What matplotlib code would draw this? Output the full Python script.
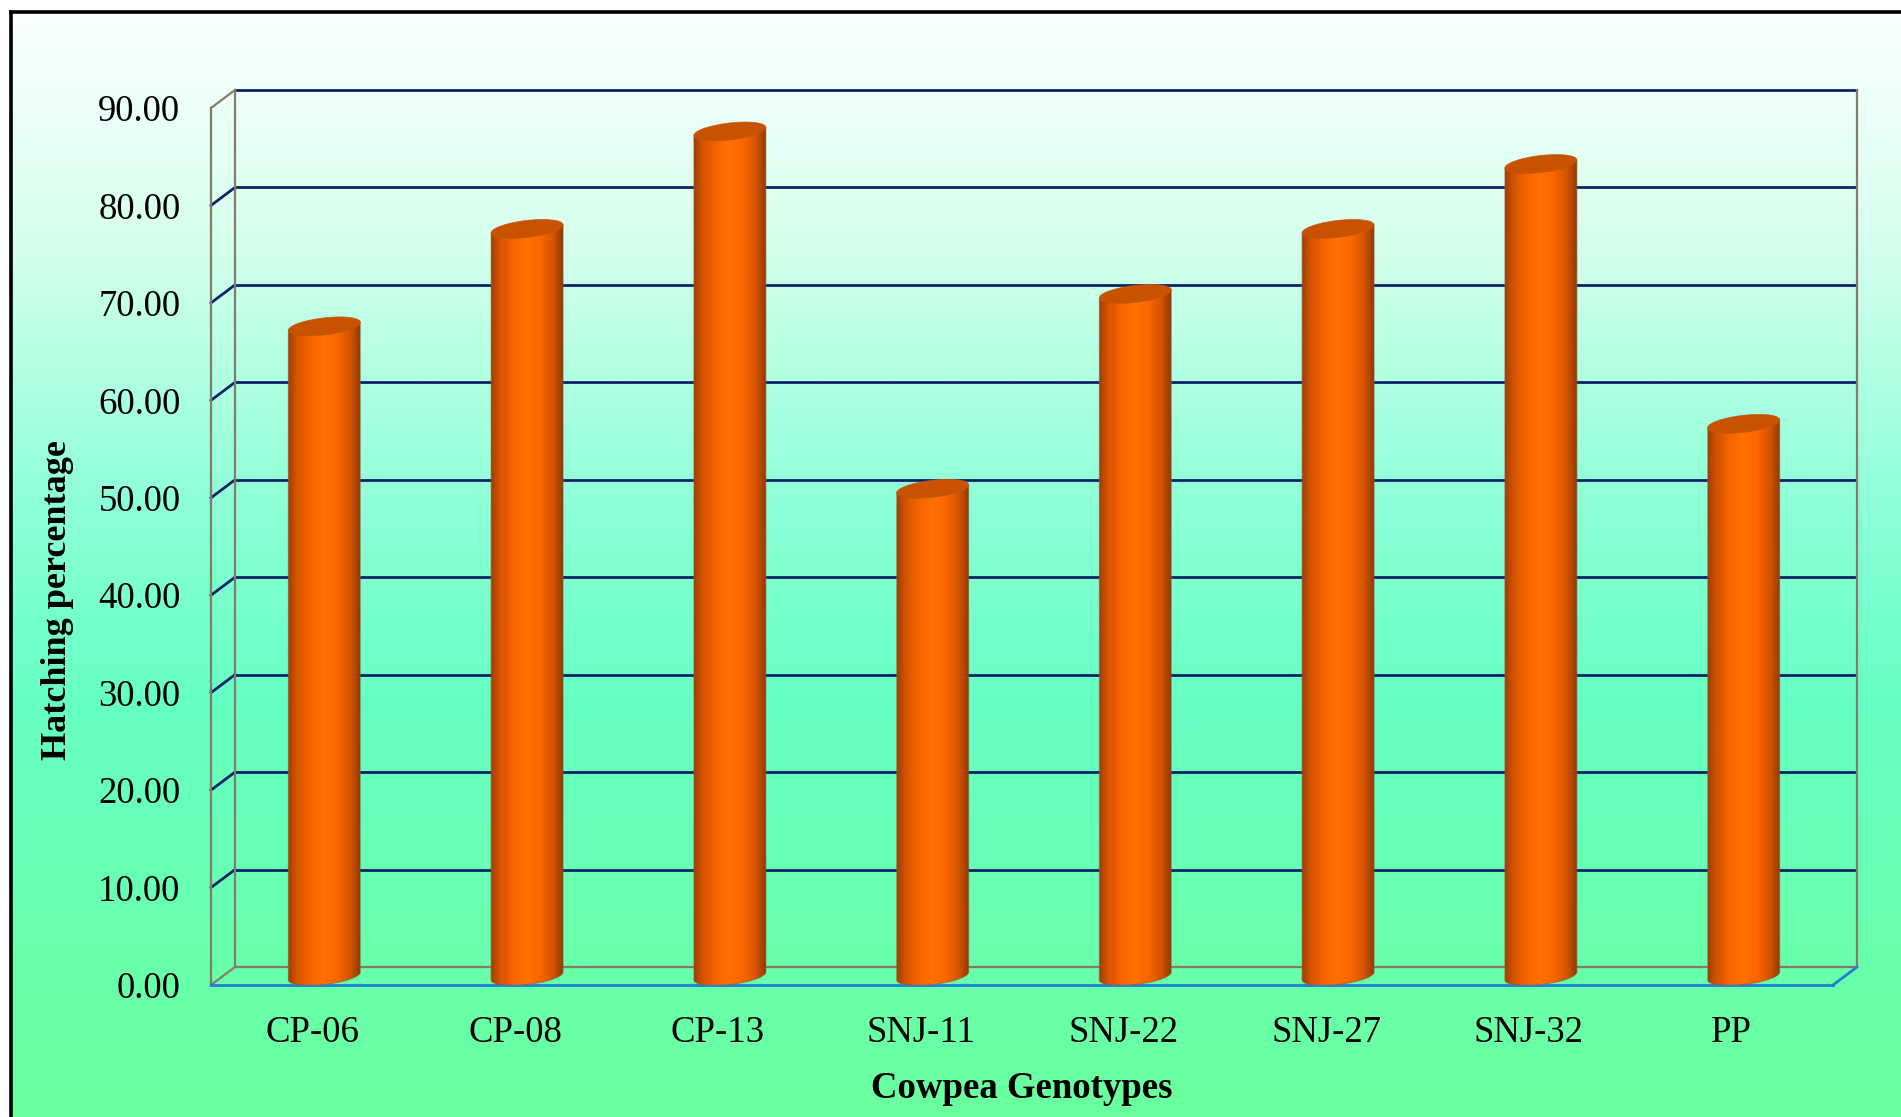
import numpy as np
import matplotlib
matplotlib.use("Agg")
import matplotlib.pyplot as plt
from matplotlib.colors import LinearSegmentedColormap
from matplotlib.patches import Polygon

# ---------------- data ----------------
genotypes = ["CP-06", "CP-08", "CP-13", "SNJ-11", "SNJ-22", "SNJ-27", "SNJ-32", "PP"]
hatching = [66.67, 76.67, 86.67, 50.00, 70.00, 76.67, 83.33, 56.67]
y_ticks = [0, 10, 20, 30, 40, 50, 60, 70, 80, 90]
y_tick_labels = ["0.00", "10.00", "20.00", "30.00", "40.00",
                 "50.00", "60.00", "70.00", "80.00", "90.00"]
x_title = "Cowpea Genotypes"
y_title = "Hatching percentage"

# ---------------- style ----------------
W, H, DPI = 1901, 1117, 100
FONT = ["Liberation Serif", "DejaVu Serif"]
plt.rcParams["font.family"] = FONT
NAVY = "#0f2266"
GREY = "#857b6b"
BLUE = "#1f7fd4"
TOP_CAP = "#c85200"
BAR_WIDTH = 0.355          # fraction of a category slot
DEPTH_PX = (24, 18)        # 3-D depth offset of the back wall, pixels
CAP_B_PX = 8.5             # semi-minor axis of the cylinder ellipses, pixels
CAP_TILT = 8.0 / 72.0      # perspective tilt of the ellipses (px rise per px run)

fig = plt.figure(figsize=(W / DPI, H / DPI), dpi=DPI)
fig.patch.set_facecolor("white")

# ---------------- background panel with gradient ----------------
bg = fig.add_axes([0, 0, 1, 1], zorder=-10)
bg.set_xlim(0, W)
bg.set_ylim(H, 0)
bg.axis("off")
bg_cmap = LinearSegmentedColormap.from_list(
    "bg",
    [(0.00, (250 / 255, 255 / 255, 253 / 255)),
     (0.20, (215 / 255, 255 / 255, 238 / 255)),
     (0.45, (140 / 255, 255 / 255, 215 / 255)),
     (0.62, (102 / 255, 255 / 255, 196 / 255)),
     (1.00, (106 / 255, 255 / 255, 158 / 255))])
grad = np.linspace(0, 1, 512).reshape(-1, 1)
bg.imshow(grad, cmap=bg_cmap, extent=[11, W, H, 12], aspect="auto",
          interpolation="bilinear")
bg.plot([11, 11], [H + 5, 11.5], color="black", lw=2.6, solid_capstyle="projecting")
bg.plot([11, W + 5], [11.5, 11.5], color="black", lw=2.6, solid_capstyle="projecting")

# ---------------- main (front plane) axes ----------------
ax_left, ax_right = 211, 1833
ax_top, ax_bottom = 108, 985
ax = fig.add_axes([ax_left / W, (H - ax_bottom) / H,
                   (ax_right - ax_left) / W, (ax_bottom - ax_top) / H])
n = len(genotypes)
ax.set_xlim(0, n)
ax.set_ylim(0, 90)
ax.patch.set_visible(False)
for s in ax.spines.values():
    s.set_visible(False)

sx = (ax_right - ax_left) / n          # pixels per category
sy = (ax_bottom - ax_top) / 90.0       # pixels per value unit
ddx = DEPTH_PX[0] / sx
ddy = DEPTH_PX[1] / sy

LW_GRID = 2.0
LW_EDGE = 1.6
# back wall gridlines and left side-wall diagonals
for v in y_ticks:
    col = GREY if v == 0 else NAVY
    ax.plot([ddx, n + ddx], [v + ddy, v + ddy], color=col,
            lw=LW_EDGE if v == 0 else LW_GRID,
            clip_on=False, zorder=1, solid_capstyle="butt")
    diag_col = GREY if v in (0, 90) else NAVY
    ax.plot([0, ddx], [v, v + ddy], color=diag_col,
            lw=LW_EDGE if v in (0, 90) else LW_GRID,
            clip_on=False, zorder=1)
# wall edges
ax.plot([0, 0], [0, 90], color=GREY, lw=LW_EDGE, clip_on=False, zorder=1)
ax.plot([ddx, ddx], [ddy, 90 + ddy], color=GREY, lw=LW_EDGE, clip_on=False, zorder=1)
ax.plot([n + ddx, n + ddx], [ddy, 90 + ddy], color=GREY, lw=LW_EDGE,
        clip_on=False, zorder=1)
# floor front edges
ax.plot([0, n], [0, 0], color=BLUE, lw=2.0, clip_on=False, zorder=1)
ax.plot([n, n + ddx], [0, ddy], color=BLUE, lw=2.0, clip_on=False, zorder=1)

# ---------------- cylinders ----------------
cyl_cmap = LinearSegmentedColormap.from_list(
    "cyl",
    [(0.00, (160 / 255, 62 / 255, 4 / 255)),
     (0.12, (212 / 255, 84 / 255, 0 / 255)),
     (0.30, (246 / 255, 100 / 255, 0 / 255)),
     (0.48, (255 / 255, 113 / 255, 0 / 255)),
     (0.68, (252 / 255, 102 / 255, 0 / 255)),
     (0.86, (214 / 255, 84 / 255, 0 / 255)),
     (1.00, (146 / 255, 58 / 255, 6 / 255))])
hgrad = np.linspace(0, 1, 256).reshape(1, -1)

a = BAR_WIDTH / 2.0
b = CAP_B_PX / sy
k = CAP_TILT * sx / sy                 # tilt in data units
t_low = np.linspace(np.pi, 2 * np.pi, 60)
t_all = np.linspace(0, 2 * np.pi, 120)
base = ddy / 2.0

for i, val in enumerate(hatching):
    cx = i + 0.5 + ddx / 2.0
    top = val + ddy / 2.0
    # body outline: straight sides, rounded bottom
    bx = cx + a * np.cos(t_low)
    by = base + b * np.sin(t_low) + k * a * np.cos(t_low)
    verts = [(cx - a, top - k * a)]
    verts += list(zip(bx, by))
    verts += [(cx + a, top + k * a)]
    body = Polygon(verts, closed=True, facecolor="none",
                   edgecolor=(0.55, 0.35, 0.2, 0.6), lw=0.8, zorder=4)
    ax.add_patch(body)
    im = ax.imshow(hgrad, cmap=cyl_cmap, aspect="auto", interpolation="bilinear",
                   extent=[cx - a, cx + a, base - b - k * a - 0.5, top + k * a + 0.5],
                   zorder=3)
    im.set_clip_path(body)
    # top cap
    ex = cx + a * np.cos(t_all)
    ey = top + b * np.sin(t_all) + k * a * np.cos(t_all)
    cap = Polygon(list(zip(ex, ey)), closed=True, facecolor=TOP_CAP,
                  edgecolor=(0.75, 0.35, 0.05, 0.8), lw=0.6, zorder=5)
    ax.add_patch(cap)

ax.set_xlim(0, n)
ax.set_ylim(0, 90)

# ---------------- ticks and titles ----------------
ax.set_yticks(y_ticks)
ax.set_yticklabels(y_tick_labels)
ax.set_xticks(np.arange(n) + 0.5)
ax.set_xticklabels(genotypes)
ax.tick_params(axis="y", length=0, pad=22, labelsize=26.5)
ax.tick_params(axis="x", length=0, pad=22, labelsize=26.5)

fig.text(1022 / W, 1 - 1088 / H, x_title, ha="center", va="center",
         fontsize=26.5, fontweight="bold")
fig.text(57 / W, 1 - 600 / H, y_title, ha="center", va="center",
         rotation=90, fontsize=26, fontweight="bold")

fig.savefig("out.png", dpi=DPI)
